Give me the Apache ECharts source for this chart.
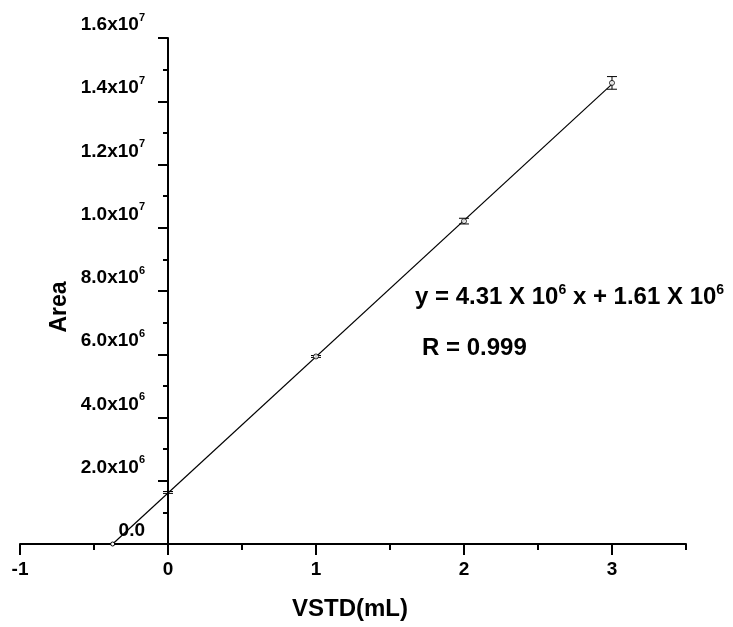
<!DOCTYPE html>
<html>
<head>
<meta charset="utf-8">
<script src="https://cdn.jsdelivr.net/npm/echarts@6/dist/echarts.min.js"></script>
<style>
  html, body { margin: 0; padding: 0; background: #fff; }
  #chart { width: 733px; height: 627px; }
</style>
</head>
<body>
<div id="chart"></div>
<script>
// measured standard-addition points
const volumes = [0, 1, 2, 3];
const areas = [1.63e6, 5.93e6, 10.21e6, 14.58e6];
const areaErrors = [0.03e6, 0.03e6, 0.09e6, 0.2e6];

// fitted line, from the x intercept up to the last point
const fitX = [-0.374, 3];
const fitY = [0, 14.54e6];

// tick labels
const xTickValues = [-1, 0, 1, 2, 3];
const xTickLabels = ['-1', '0', '1', '2', '3'];
const yTickValues = [0, 2e6, 4e6, 6e6, 8e6, 1e7, 1.2e7, 1.4e7, 1.6e7];
const yTickMantissa = ['0.0', '2.0', '4.0', '6.0', '8.0', '1.0', '1.2', '1.4', '1.6'];
const yTickExponent = ['', '6', '6', '6', '6', '7', '7', '7', '7'];

const FONT = "'Liberation Sans', Arial, sans-serif";

var chart = echarts.init(document.getElementById('chart'));

var fitData = fitX.map(function (x, i) {
  return i === 0
    ? { value: [x, fitY[i]], symbol: 'circle', symbolSize: 4 }
    : { value: [x, fitY[i]], symbol: 'none' };
});

var pointData = volumes.map(function (x, i) {
  // the x=0 point sits on the y axis, only its bar shows there
  return x === 0
    ? { value: [x, areas[i]], symbolSize: 0 }
    : { value: [x, areas[i]] };
});

var errData = volumes.map(function (x, i) {
  return [x, areas[i], areaErrors[i]];
});

var tickStyle = { color: '#000', width: 2 };

var option = {
  animation: false,
  backgroundColor: '#fff',
  grid: { left: 20, right: 47, top: 38, bottom: 83, containLabel: false, outerBoundsMode: 'none' },
  xAxis: {
    type: 'value',
    min: -1,
    max: 3.5001,
    interval: 1,
    splitLine: { show: false },
    axisLine: { onZero: true, lineStyle: tickStyle },
    axisTick: { show: true, length: 11, lineStyle: tickStyle, customValues: xTickValues },
    minorTick: { show: true, splitNumber: 2, length: 6, lineStyle: tickStyle },
    axisLabel: {
      customValues: xTickValues,
      margin: 16,
      color: '#000',
      fontSize: 19,
      fontWeight: 'bold',
      fontFamily: FONT,
      formatter: function (v) {
        var i = xTickValues.indexOf(Math.round(v * 1000) / 1000);
        return i < 0 ? '' : xTickLabels[i];
      }
    }
  },
  yAxis: {
    type: 'value',
    min: 0,
    max: 1.6e7,
    interval: 2e6,
    // sits at x = 0: one x unit right of the left edge (x = -1)
    offset: -148,
    splitLine: { show: false },
    axisLine: { onZero: false, lineStyle: tickStyle },
    axisTick: { show: true, length: 10, lineStyle: tickStyle },
    minorTick: { show: true, splitNumber: 2, length: 5, lineStyle: tickStyle },
    axisLabel: {
      margin: 23,
      color: '#000',
      fontSize: 19,
      fontWeight: 'bold',
      fontFamily: FONT,
      lineHeight: 26,
      verticalAlign: 'bottom',
      formatter: function (v) {
        var i = yTickValues.indexOf(v);
        if (i < 0) return '';
        var e = yTickExponent[i];
        return e ? yTickMantissa[i] + 'x10{sup|' + e + '}' : yTickMantissa[i];
      },
      rich: {
        sup: {
          fontSize: 11,
          fontWeight: 'bold',
          fontFamily: FONT,
          color: '#000',
          lineHeight: 18,
          verticalAlign: 'top'
        }
      }
    }
  },
  series: [
    {
      name: 'fit',
      type: 'line',
      data: fitData,
      showSymbol: true,
      symbol: 'circle',
      itemStyle: { color: '#fff', borderColor: '#000', borderWidth: 1 },
      lineStyle: { color: '#000', width: 1.2 },
      z: 3
    },
    {
      name: 'error',
      type: 'custom',
      data: errData,
      z: 4,
      renderItem: function (params, api) {
        var x = api.value(0), y = api.value(1), e = api.value(2);
        var top = api.coord([x, y + e]);
        var bot = api.coord([x, y - e]);
        var hw = 5;
        var st = { stroke: '#000', lineWidth: 1 };
        return {
          type: 'group',
          children: [
            { type: 'line', shape: { x1: top[0], y1: top[1], x2: bot[0], y2: bot[1] }, style: st },
            { type: 'line', shape: { x1: top[0] - hw, y1: top[1], x2: top[0] + hw, y2: top[1] }, style: st },
            { type: 'line', shape: { x1: bot[0] - hw, y1: bot[1], x2: bot[0] + hw, y2: bot[1] }, style: st }
          ]
        };
      }
    },
    {
      name: 'points',
      type: 'scatter',
      data: pointData,
      symbol: 'circle',
      symbolSize: 5,
      itemStyle: { color: '#fff', borderColor: '#000', borderWidth: 1 },
      z: 5
    }
  ],
  graphic: [
    {
      type: 'text',
      x: 60,
      y: 307,
      rotation: Math.PI / 2,
      style: {
        text: 'Area',
        font: 'bold 23px ' + FONT,
        fill: '#000',
        align: 'center',
        verticalAlign: 'middle'
      }
    },
    {
      type: 'text',
      x: 350,
      y: 609,
      style: {
        text: 'VSTD(mL)',
        font: 'bold 24px ' + FONT,
        fill: '#000',
        align: 'center',
        verticalAlign: 'middle'
      }
    },
    {
      type: 'text',
      x: 415,
      y: 297,
      style: {
        text: 'y = 4.31 X 10{sup|6} x + 1.61 X 10{sup|6}',
        font: 'bold 24px ' + FONT,
        fill: '#000',
        lineHeight: 28,
        align: 'left',
        verticalAlign: 'middle',
        rich: {
          sup: { font: 'bold 14px ' + FONT, fill: '#000', lineHeight: 10, verticalAlign: 'top' }
        }
      }
    },
    {
      type: 'text',
      x: 422,
      y: 348,
      style: {
        text: 'R = 0.999',
        font: 'bold 24px ' + FONT,
        fill: '#000',
        align: 'left',
        verticalAlign: 'middle'
      }
    }
  ]
};

chart.setOption(option);
</script>
</body>
</html>
